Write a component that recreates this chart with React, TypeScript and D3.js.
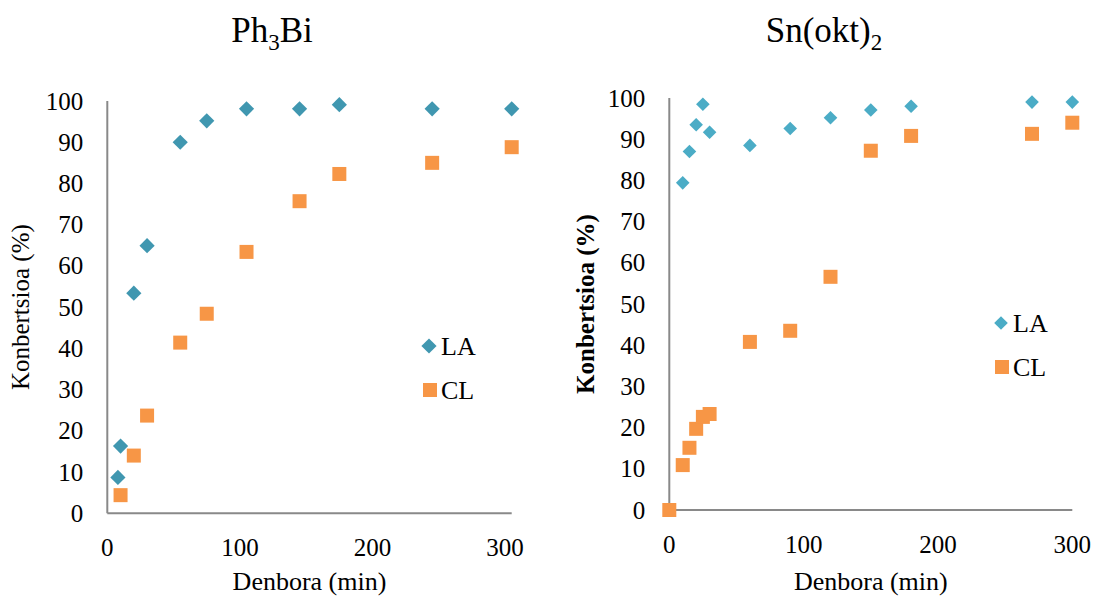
import React, { useEffect, useRef } from 'react';
import * as d3 from 'd3';

// Ph3Bi panel
const ph3biTimeLA = [8, 10, 20, 30, 55, 75, 105, 145, 175, 245, 305];
const ph3biLA = [8.7, 16.3, 53.4, 64.9, 90, 95.2, 98.1, 98.1, 99.1, 98.1, 98.1];
const ph3biTimeCL = [10, 20, 30, 55, 75, 105, 145, 175, 245, 305];
const ph3biCL = [4.4, 14.0, 23.7, 41.4, 48.4, 63.4, 75.7, 82.3, 85.0, 88.8];

// Sn(okt)2 panel
const snTimeLA = [10, 15, 20, 25, 30, 60, 90, 120, 150, 180, 270, 300];
const snLA = [79.4, 87.0, 93.5, 98.5, 91.7, 88.5, 92.6, 95.2, 97.1, 98.0, 99.0, 99.0];
const snTimeCL = [0, 10, 15, 20, 25, 30, 60, 90, 120, 150, 180, 270, 300];
const snCL = [0, 10.9, 15.1, 19.7, 22.6, 23.3, 40.8, 43.5, 56.6, 87.2, 90.8, 91.3, 94.0];

const xTicks = [0, 100, 200, 300];
const yTicks = [0, 10, 20, 30, 40, 50, 60, 70, 80, 90, 100];
const seriesNames = ['LA', 'CL'];

const FONT = "'Liberation Serif', 'DejaVu Serif', serif";
const ORANGE = '#f79646';
const AXIS = '#898989';

interface PanelCfg {
  left: number;
  right: number;
  top: number;
  bottom: number;
  xMax: number;
  title: [string, string, string];
  titleX: number;
  laColor: string;
  diamond: number;
  timeLA: number[];
  la: number[];
  timeCL: number[];
  cl: number[];
  yTitleX: number;
  yTitleBold: boolean;
  legend: { x: number; y: number };
}

const panels: PanelCfg[] = [
  {
    left: 107.3, right: 511.7, top: 101, bottom: 513.3, xMax: 305,
    title: ['Ph', '3', 'Bi'], titleX: 272,
    laColor: '#4097b0', diamond: 7.6,
    timeLA: ph3biTimeLA, la: ph3biLA, timeCL: ph3biTimeCL, cl: ph3biCL,
    yTitleX: 29, yTitleBold: false,
    legend: { x: 429, y: 346 },
  },
  {
    left: 669.3, right: 1072.3, top: 98, bottom: 510, xMax: 300,
    title: ['Sn(okt)', '2', ''], titleX: 824,
    laColor: '#4bacc6', diamond: 6.8,
    timeLA: snTimeLA, la: snLA, timeCL: snTimeCL, cl: snCL,
    yTitleX: 594, yTitleBold: true,
    legend: { x: 1001, y: 323 },
  },
];

const diamondPath = (r: number) => `M0,${-r}L${r},0L0,${r}L${-r},0Z`;

export default function App() {
  const svgRef = useRef<SVGSVGElement | null>(null);

  useEffect(() => {
    if (!svgRef.current) return;
    const svg = d3.select(svgRef.current);
    svg.selectAll('*').remove();

    svg.append('rect').attr('width', 1094).attr('height', 596).attr('fill', '#ffffff');

    panels.forEach((p) => {
      const x = d3.scaleLinear().domain([0, p.xMax]).range([p.left, p.right]);
      const y = d3.scaleLinear().domain([0, 100]).range([p.bottom, p.top]);
      const g = svg.append('g').style('font-family', FONT).attr('fill', '#000');

      // Title with subscript
      const t = g.append('text')
        .attr('x', p.titleX)
        .attr('y', 42)
        .attr('text-anchor', 'middle')
        .attr('font-size', 35);
      t.append('tspan').text(p.title[0]);
      t.append('tspan').attr('font-size', 23).attr('dy', 8).text(p.title[1]);
      if (p.title[2]) t.append('tspan').attr('dy', -8).text(p.title[2]);

      // Axes (no ticks)
      g.append('line')
        .attr('x1', x(0)).attr('x2', x(0)).attr('y1', y(100)).attr('y2', y(0))
        .attr('stroke', AXIS).attr('stroke-width', 2);
      g.append('line')
        .attr('x1', x(0)).attr('x2', x(p.xMax)).attr('y1', y(0)).attr('y2', y(0))
        .attr('stroke', AXIS).attr('stroke-width', 2);

      // Y tick labels
      g.selectAll('.ytick')
        .data(yTicks)
        .enter()
        .append('text')
        .attr('x', x(0) - 24)
        .attr('y', (d) => y(d))
        .attr('dy', '0.34em')
        .attr('text-anchor', 'end')
        .attr('font-size', 25)
        .text((d) => d);

      // X tick labels
      g.selectAll('.xtick')
        .data(xTicks)
        .enter()
        .append('text')
        .attr('x', (d) => x(d))
        .attr('y', y(0) + 43)
        .attr('text-anchor', 'middle')
        .attr('font-size', 25)
        .text((d) => d);

      // Axis titles
      g.append('text')
        .attr('x', (p.left + p.right) / 2)
        .attr('y', 590)
        .attr('text-anchor', 'middle')
        .attr('font-size', 26)
        .text('Denbora (min)');
      g.append('text')
        .attr('transform', `translate(${p.yTitleX},${(p.top + p.bottom) / 2}) rotate(-90)`)
        .attr('text-anchor', 'middle')
        .attr('font-size', 25)
        .attr('font-weight', p.yTitleBold ? 'bold' : 'normal')
        .text('Konbertsioa (%)');

      // CL squares
      const s = 14;
      g.selectAll('.cl')
        .data(p.cl.map((v, i) => [p.timeCL[i], v]))
        .enter()
        .append('rect')
        .attr('x', (d) => x(d[0]) - s / 2)
        .attr('y', (d) => y(d[1]) - s / 2)
        .attr('width', s)
        .attr('height', s)
        .attr('fill', ORANGE);

      // LA diamonds
      g.selectAll('.la')
        .data(p.la.map((v, i) => [p.timeLA[i], v]))
        .enter()
        .append('path')
        .attr('transform', (d) => `translate(${x(d[0])},${y(d[1])})`)
        .attr('d', diamondPath(p.diamond))
        .attr('fill', p.laColor);

      // Legend
      const lg = g.append('g').attr('transform', `translate(${p.legend.x},${p.legend.y})`);
      lg.append('path').attr('d', diamondPath(p.diamond)).attr('fill', p.laColor);
      lg.append('rect').attr('x', 1 - s / 2).attr('y', 44 - s / 2).attr('width', s).attr('height', s).attr('fill', ORANGE);
      lg.selectAll('.lt')
        .data(seriesNames)
        .enter()
        .append('text')
        .attr('x', 12)
        .attr('y', (_, i) => i * 44)
        .attr('dy', '0.34em')
        .attr('font-size', 26)
        .text((d) => d);
    });
  }, []);

  return (
    <svg
      ref={svgRef}
      width={1094}
      height={596}
      style={{ position: 'absolute', left: 0, top: 0 }}
    />
  );
}
